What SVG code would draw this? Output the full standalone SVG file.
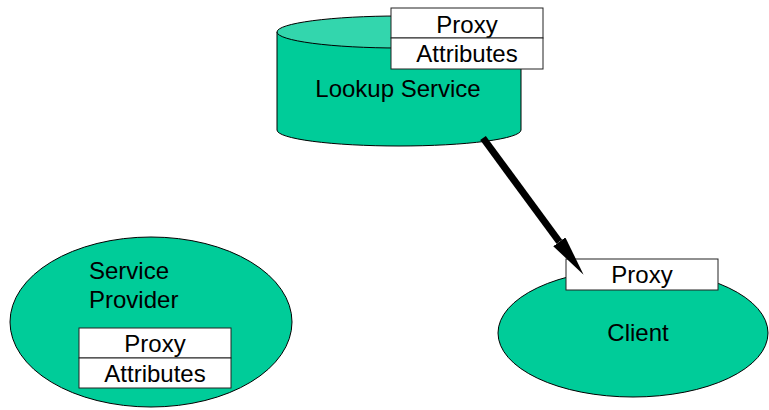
<svg xmlns="http://www.w3.org/2000/svg" width="769" height="410" viewBox="0 0 769 410">
<defs>
<style>
.shape{fill:#00CC99;stroke:#000;stroke-width:1}
.top{fill:#33D6AD;stroke:#000;stroke-width:1}
.box{fill:#fff;stroke:#222;stroke-width:1}
text{font-family:"Liberation Sans",Arial,sans-serif;font-size:24px;fill:#000}
.c{text-anchor:middle}
</style>
<marker id="head" markerUnits="userSpaceOnUse" markerWidth="41" markerHeight="15" refX="0" refY="7.5" orient="auto">
<path d="M0,0 L41,7.5 L0,15 Z" fill="#000"/>
</marker>
</defs>
<rect width="769" height="410" fill="#fff"/>
<g id="lookup-service">
<path class="shape" d="M277,32 L277,130 A122,16 0 0 0 521,130 L521,32 Z"/>
<ellipse class="top" cx="399" cy="32" rx="122" ry="16"/>
<rect class="box" x="391" y="8" width="152" height="30"/>
<text class="c" x="467" y="33">Proxy</text>
<rect class="box" x="391" y="38" width="152" height="31"/>
<text class="c" x="467" y="62">Attributes</text>
<text class="c" x="398" y="97">Lookup Service</text>
</g>
<g id="service-provider">
<ellipse class="shape" cx="151" cy="322" rx="141" ry="85"/>
<text x="89" y="279">Service</text>
<text x="89" y="308">Provider</text>
<rect class="box" x="79" y="328" width="152" height="30"/>
<text class="c" x="155" y="352">Proxy</text>
<rect class="box" x="79" y="358" width="152" height="30"/>
<text class="c" x="155" y="382">Attributes</text>
</g>
<g id="client">
<ellipse class="shape" cx="633" cy="333" rx="135" ry="64"/>
<text class="c" x="638" y="341">Client</text>
<rect class="box" x="566" y="259" width="152" height="31"/>
<text class="c" x="642" y="283">Proxy</text>
</g>
<g id="connectors">
<line x1="483" y1="138" x2="559.3" y2="241.8" stroke="#000" stroke-width="7" marker-end="url(#head)"/>
</g>
</svg>
